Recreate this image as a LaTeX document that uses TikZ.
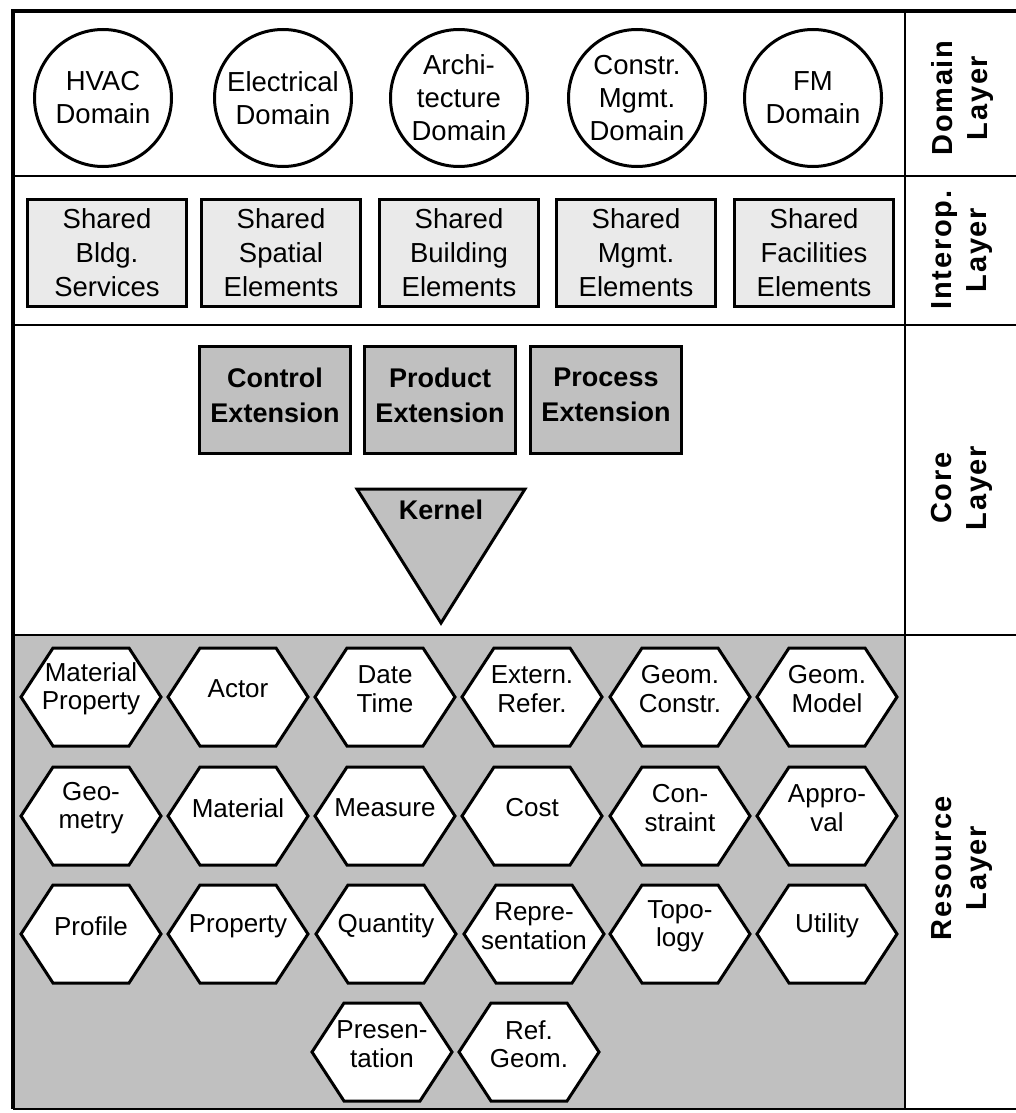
\documentclass[tikz,border=0pt]{standalone}
\usepackage{fontspec}
\setmainfont{Liberation Sans}
\newfontfamily\labelfont[LetterSpace=6]{Liberation Sans}
\definecolor{coregray}{RGB}{192,192,192}
\definecolor{sharedgray}{RGB}{234,234,234}
\newcommand\hexmod[4]{% name, x, y, text
  \draw[hexline] (#2-70,#3) -- (#2-38,#3-49) -- (#2+38,#3-49) -- (#2+70,#3)
    -- (#2+38,#3+49) -- (#2-38,#3+49) -- cycle;
  \node[hextext] (#1) at (#2,#3-8) {#4};}
\begin{document}
\begin{tikzpicture}[x=1pt,y=-1pt,
  frameline/.style={line width=3.5pt},
  divider/.style={line width=2.5pt},
  domaincircle/.style={circle, draw, line width=3pt, minimum size=137pt, inner sep=0pt,
    align=center, font=\fontsize{27.5}{33}\selectfont},
  shared/.style={rectangle, draw, line width=3pt, fill=sharedgray,
    minimum width=159pt, minimum height=107pt, inner sep=0pt,
    align=center, font=\fontsize{27.5}{34}\selectfont},
  corebox/.style={rectangle, draw, line width=3pt, fill=coregray,
    minimum width=151pt, minimum height=107pt, inner sep=0pt},
  coretext/.style={inner sep=0pt, align=center, font=\bfseries\fontsize{27}{35}\selectfont},
  hexline/.style={draw, line width=3pt, fill=white, line join=miter},
  hextext/.style={inner sep=0pt, align=center, font=\fontsize{26}{28.5}\selectfont},
  layerlabel/.style={rotate=90, inner sep=0pt, align=center,
    font=\labelfont\bfseries\fontsize{29}{35}\selectfont},
]
\useasboundingbox (0,0) rectangle (1015,1113);

% resource layer background
\fill[coregray] (13,635) rectangle (905,1109);

% frame and layer dividers
\draw[divider] (13,176) -- (1020,176);
\draw[divider] (13,325) -- (1020,325);
\draw[divider] (13,635) -- (1020,635);
\draw[divider] (905,11) -- (905,1109);
\draw[divider] (13,1109) -- (1020,1109);
\draw[frameline] (13,1109) -- (13,11) -- (1020,11);

% domain layer
\node[domaincircle] (hvac) at (103,98) {HVAC\\Domain};
\node[domaincircle] (elec) at (283,98) {Electrical\\Domain};
\node[domaincircle] (arch) at (459,98) {Archi-\\tecture\\Domain};
\node[domaincircle] (cmgmt) at (637,98) {Constr.\\Mgmt.\\Domain};
\node[domaincircle] (fm) at (813,98) {FM\\Domain};

% interoperability layer
\node[shared] (sbs) at (107,253) {Shared\\Bldg.\\Services};
\node[shared] (sse) at (281,253) {Shared\\Spatial\\Elements};
\node[shared] (sbe) at (459,253) {Shared\\Building\\Elements};
\node[shared] (sme) at (636,253) {Shared\\Mgmt.\\Elements};
\node[shared] (sfe) at (814,253) {Shared\\Facilities\\Elements};

% core layer
\node[corebox] (ctl) at (275,400) {};
\node[coretext] (ctl-t) at (275,395) {Control\\Extension};
\node[corebox] (prd) at (440,400) {};
\node[coretext] (prd-t) at (440,395) {Product\\Extension};
\node[corebox] (prc) at (606,400) {};
\node[coretext] (prc-t) at (606,395) {Process\\Extension};
\draw[line width=3pt, fill=coregray, line join=miter] (357,489) -- (525,489) -- (441,623) -- cycle;
\node[coretext] (kernel) at (441,510) {Kernel};

% resource layer
\hexmod{r11}{91}{697}{Material\\Property}
\hexmod{r12}{238}{697}{Actor}
\hexmod{r13}{385}{697}{Date\\Time}
\hexmod{r14}{532}{697}{Extern.\\Refer.}
\hexmod{r15}{680}{697}{Geom.\\Constr.}
\hexmod{r16}{827}{697}{Geom.\\Model}
\hexmod{r21}{91}{816}{Geo-\\metry}
\hexmod{r22}{238}{816}{Material}
\hexmod{r23}{385}{816}{Measure}
\hexmod{r24}{532}{816}{Cost}
\hexmod{r25}{680}{816}{Con-\\straint}
\hexmod{r26}{827}{816}{Appro-\\val}
\hexmod{r31}{91}{934}{Profile}
\hexmod{r32}{238}{934}{Property}
\hexmod{r33}{386}{934}{Quantity}
\hexmod{r34}{534}{934}{Repre-\\sentation}
\hexmod{r35}{680}{934}{Topo-\\logy}
\hexmod{r36}{827}{934}{Utility}
\hexmod{r43}{382}{1052}{Presen-\\tation}
\hexmod{r44}{529}{1052}{Ref.\\Geom.}

% layer names
\node[layerlabel] (l-dom) at (962,98) {Domain\\Layer};
\node[layerlabel] (l-int) at (962,250) {Interop.\\Layer};
\node[layerlabel] (l-core) at (962,488) {Core\\Layer};
\node[layerlabel] (l-res) at (962,868) {Resource\\Layer};
\end{tikzpicture}
\end{document}
